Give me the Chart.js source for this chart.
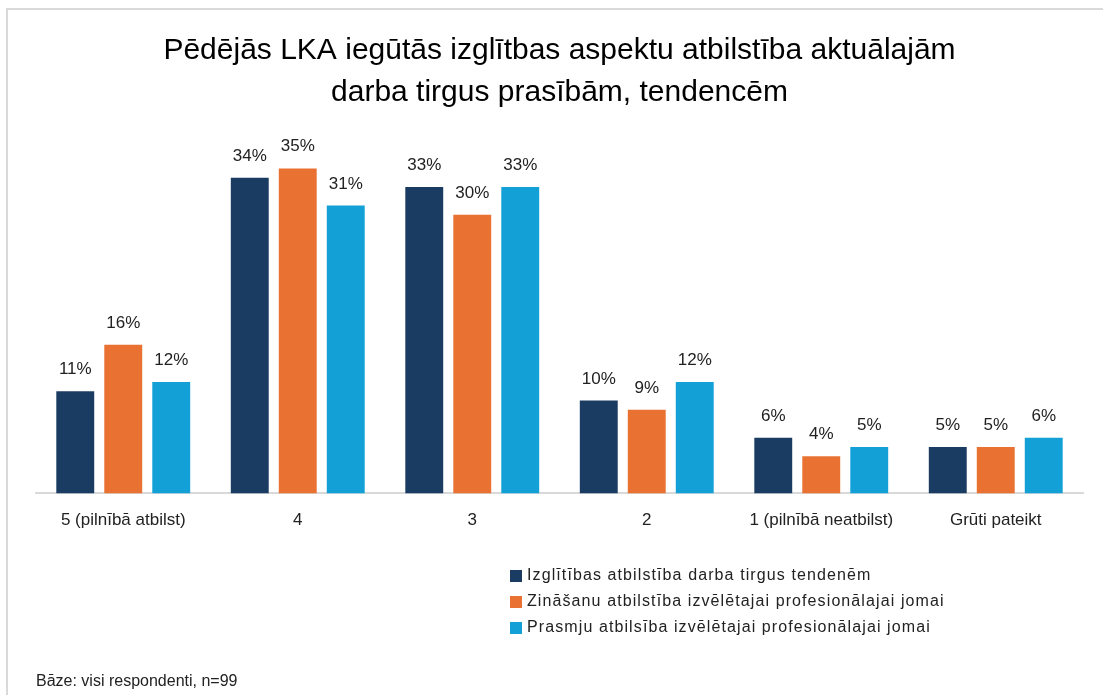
<!DOCTYPE html>
<html>
<head>
<meta charset="utf-8">
<script src="https://cdn.jsdelivr.net/npm/chart.js@4/dist/chart.umd.min.js"></script>
<style>
  html, body { margin: 0; padding: 0; background: #fff; }
  #wrap { position: relative; width: 1103px; height: 695px; }
  #frame { position: absolute; left: 6px; top: 8px; right: 0; bottom: 0;
           border-left: 2px solid #d9d9d9; border-top: 2px solid #d9d9d9; pointer-events: none; }
</style>
</head>
<body>
<div id="wrap">
  <canvas id="chart"></canvas>
  <div id="frame"></div>
</div>
<script>
var ctx = document.getElementById('chart').getContext('2d');
ctx.canvas.width = 1103;
ctx.canvas.height = 695;

const categories = ['5 (pilnībā atbilst)', '4', '3', '2', '1 (pilnībā neatbilst)', 'Grūti pateikt'];
const seriesNames = [
    'Izglītības atbilstība darba tirgus tendenēm',
    'Zināšanu atbilstība izvēlētajai profesionālajai jomai',
    'Prasmju atbilsība izvēlētajai profesionālajai jomai'
];
const izglitiba = [11, 34, 33, 10, 6, 5];
const zinasanas = [16, 35, 30, 9, 4, 5];
const prasmes = [12, 31, 33, 12, 5, 6];
const colors = ['#1a3c63', '#e97132', '#12a0d7'];

const font = "'Liberation Sans', Arial, sans-serif";

// percentage labels above bars
var valueLabels = {
    id: 'valueLabels',
    afterDatasetsDraw: function (chart) {
        var c = chart.ctx;
        c.save();
        c.font = '17px ' + font;
        c.fillStyle = '#222';
        c.textAlign = 'center';
        c.textBaseline = 'alphabetic';
        chart.data.datasets.forEach(function (ds, i) {
            chart.getDatasetMeta(i).data.forEach(function (bar, j) {
                c.fillText(ds.data[j] + '%', bar.x, bar.y - 17);
            });
        });
        c.restore();
    }
};

// vertical legend below the axis
var stackedLegend = {
    id: 'stackedLegend',
    afterDraw: function (chart) {
        var c = chart.ctx;
        c.save();
        c.font = '16px ' + font;
        c.letterSpacing = '1.1px';
        c.textBaseline = 'middle';
        c.textAlign = 'left';
        chart.data.datasets.forEach(function (ds, i) {
            var y = 576 + i * 26;
            c.fillStyle = ds.backgroundColor;
            c.fillRect(510, y - 6, 12, 12);
            c.fillStyle = '#222';
            c.fillText(ds.label, 527, y);
        });
        c.restore();
    }
};

var chart = new Chart(ctx, {
    type: 'bar',
    data: {
        labels: categories,
        datasets: [
            { label: seriesNames[0], data: izglitiba, backgroundColor: colors[0] },
            { label: seriesNames[1], data: zinasanas, backgroundColor: colors[1] },
            { label: seriesNames[2], data: prasmes, backgroundColor: colors[2] }
        ]
    },
    options: {
        responsive: false,
        animation: false,
        layout: { padding: { left: 36, right: 20, top: 0, bottom: 0 } },
        datasets: { bar: { barPercentage: 0.79, categoryPercentage: 0.825 } },
        scales: {
            x: {
                grid: { display: false, drawTicks: false },
                border: { display: true, color: '#d9d9d9', width: 2 },
                ticks: { color: '#222', font: { family: font, size: 17 }, padding: 17, maxRotation: 0 }
            },
            y: { display: false, min: 0, max: 40 }
        },
        plugins: {
            legend: { display: false },
            tooltip: { enabled: false },
            title: {
                display: true,
                text: ['Pēdējās LKA iegūtās izglītbas aspektu atbilstība aktuālajām', 'darba tirgus prasībām, tendencēm'],
                color: '#000',
                font: { family: "'Liberation Sans Narrow', 'Arial Narrow', 'Liberation Sans', sans-serif", size: 30, weight: 'normal', lineHeight: 1.4 },
                padding: { top: 30, bottom: 8 }
            },
            subtitle: {
                display: true,
                position: 'bottom',
                align: 'start',
                text: 'Bāze: visi respondenti, n=99',
                color: '#222',
                font: { family: font, size: 16 },
                padding: { top: 124, bottom: 4 }
            }
        }
    },
    plugins: [valueLabels, stackedLegend]
});
</script>
</body>
</html>
